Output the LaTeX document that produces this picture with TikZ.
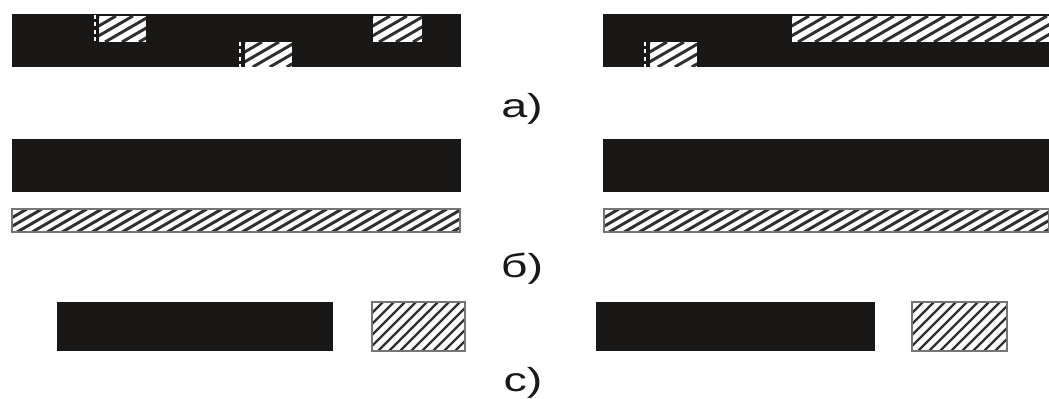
\documentclass[tikz,border=0pt]{standalone}
\usepackage{fontspec}
\setmainfont{Liberation Sans}
\definecolor{ink}{HTML}{1A1817}
\newcommand{\hatchbox}[8]{% x1 y1 x2 y2 xstep run-per-height name width
  \node[inner sep=0pt,minimum size=0pt] (#7) at ({(#1+#3)/2},{(#2+#4)/2}) {};
  \fill[white] (#1,#2) rectangle (#3,#4);
  \begin{scope}
    \clip (#1,#2) rectangle (#3,#4);
    \pgfmathsetmacro{\hh}{#4-#2}
    \pgfmathsetmacro{\run}{\hh*#6}
    \pgfmathsetmacro{\st}{#1-\run}
    \pgfmathsetmacro{\stn}{#1-\run+#5}
    \foreach \q in {\st,\stn,...,#3}
      \draw[hatchline,line width=#8] (\q,#4) -- ({\q+\run},#2);
  \end{scope}
}
\tikzset{
  x=0.75pt,y=-0.75pt,
  solidbar/.style={fill=ink,draw=none},
  hatchline/.style={draw=ink!90},
  frameline/.style={draw=ink!60,line width=1pt},
  tag/.style={font=\fontsize{25}{25}\selectfont,text=ink,inner sep=0pt,anchor=base,xscale=1.4},
  gapline/.style={draw=white,line width=1.3pt,dash pattern=on 3pt off 2.5pt}
}
\begin{document}
\begin{tikzpicture}
\useasboundingbox (0,0) rectangle (1049,399);
% row a left
\fill[solidbar] (12,14) rectangle (461,67);
\hatchbox{99}{16}{146}{42}{17}{1.73}{a1}{2.2pt}
\hatchbox{245}{42}{292}{67}{17}{1.73}{a2}{2.2pt}
\hatchbox{373}{16}{422}{42}{17}{1.73}{a3}{2.2pt}
\draw[gapline] (95,15) -- (95,43);
\draw[gapline] (240,42) -- (240,67);
% row a right
\fill[solidbar] (603,14) rectangle (1049,67);
\hatchbox{792}{16}{1049}{42}{17}{1.73}{a4}{2.2pt}
\hatchbox{650}{42}{697}{67}{17}{1.73}{a5}{2.2pt}
\draw[gapline] (645,42) -- (645,67);
% row b
\fill[solidbar] (12,139) rectangle (461,192);
\fill[solidbar] (603,139) rectangle (1049,192);
\hatchbox{12}{209}{460}{232}{15}{1.73}{b1}{2.2pt}
\hatchbox{604}{209}{1049}{232}{15}{1.73}{b2}{2.2pt}
\draw[frameline] (12,209) rectangle (460,232);
\draw[frameline] (604,209) rectangle (1049,232);
% row c
\fill[solidbar] (57,302) rectangle (333,351);
\fill[solidbar] (596,302) rectangle (875,351);
\hatchbox{372}{302}{465}{351}{11}{1.0}{c1}{1.8pt}
\hatchbox{912}{302}{1007}{351}{11}{1.0}{c2}{1.8pt}
\draw[frameline] (372,302) rectangle (465,351);
\draw[frameline] (912,302) rectangle (1007,351);
% labels
\node[tag] (la) at (522,118) {а)};
\node[tag] (lb) at (522,277) {б)};
\node[tag] (lc) at (523,391) {с)};
\end{tikzpicture}
\end{document}
